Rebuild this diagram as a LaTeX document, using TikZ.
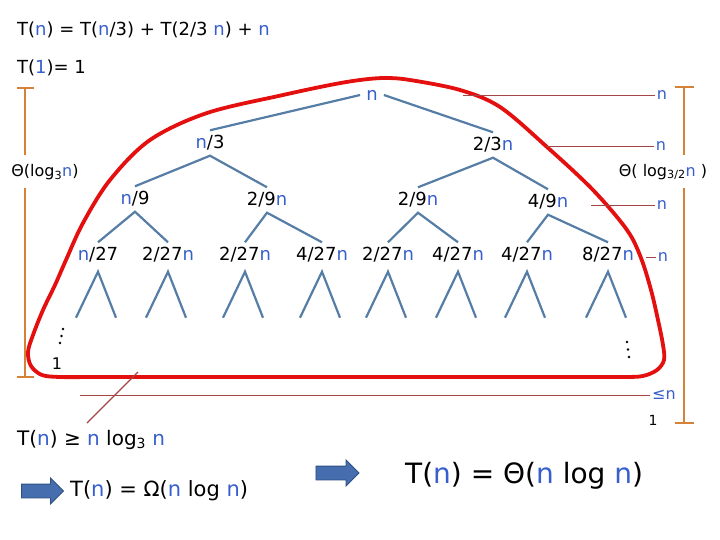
\documentclass[tikz,border=0pt]{standalone}
\usepackage{fontspec}
\setmainfont{DejaVu Sans}
\usetikzlibrary{shapes.arrows}
\definecolor{nblue}{RGB}{55,95,205}
\definecolor{treeblue}{RGB}{85,125,165}
\definecolor{curvered}{RGB}{228,16,16}
\definecolor{bracketor}{RGB}{212,130,55}
\definecolor{thinbrown}{RGB}{165,70,70}
\definecolor{arrfill}{RGB}{70,110,175}
\definecolor{arrdraw}{RGB}{45,80,130}
\newcommand\blun{\textcolor{nblue}{n}}
\newcommand\fs[1]{\fontsize{#1}{#1}\selectfont}
\begin{document}
\begin{tikzpicture}[x=1pt,y=-1pt,
  lbl/.style={font=\fs{18}, inner xsep=1pt, inner ysep=5pt},
  tl/.style={draw=treeblue, line width=2.2pt},
  redc/.style={draw=curvered, line width=3.8pt, line join=round},
  brk/.style={draw=bracketor, line width=2.8pt},
  thinl/.style={draw=thinbrown, line width=0.8pt},
  rlab/.style={font=\fs{16}, inner sep=2pt, text=nblue},
  txt/.style={inner sep=0pt, anchor=west},
  dotf/.style={fill=black, draw=none},
  barrow/.style={single arrow, fill=arrfill, draw=arrdraw, line width=0.8pt,
    minimum height=42pt, single arrow head extend=6pt,
    single arrow tip angle=90, inner sep=0pt}]
\useasboundingbox (0,0) rectangle (720,540);
% equations
\node[txt, font=\fs{18}] (eq1) at (17,30) {T(\blun) = T(\blun/3) + T(2/3 \blun) + \blun};
\node[txt, font=\fs{18}] (eq2) at (17,68) {T(\textcolor{nblue}{1})= 1};
% red curve
\draw[redc] plot[smooth, tension=0.55] coordinates {
 (90,377) (60,377) (42,375) (31,366) (28,352) (33,335) (43,310) (55,285) (66,260)
 (83,223) (110,180) (150,140) (207,113) (283,95) (330,85) (360,80) (385,78) (410,80)
 (460,90) (500,107) (547,147) (593,190) (627,230) (641,258) (651,290) (658,320)
 (663,345) (664,360) (657,370) (643,376) (625,377) (600,377)} -- cycle;
% tree
\node[lbl, inner xsep=6pt] (r) at (372,95) {\blun};
\node[lbl] (a) at (210,143) {\blun/3};
\node[lbl] (b) at (493,145) {2/3\blun};
\node[lbl] (aa) at (135,199) {\blun/9};
\node[lbl] (ab) at (267,200) {2/9\blun};
\node[lbl] (ba) at (418,200) {2/9\blun};
\node[lbl] (bb) at (548,202) {4/9\blun};
\node[lbl] (aaa) at (98,255) {\blun/27};
\node[lbl] (aab) at (168,255) {2/27\blun};
\node[lbl] (aba) at (245,255) {2/27\blun};
\node[lbl] (abb) at (322,255) {4/27\blun};
\node[lbl] (baa) at (388,255) {2/27\blun};
\node[lbl] (bab) at (458,255) {4/27\blun};
\node[lbl] (bba) at (527,255) {4/27\blun};
\node[lbl] (bbb) at (608,255) {8/27\blun};
\draw[tl] (r.west) -- (a.north);
\draw[tl] (r.east) -- (b.north);
\draw[tl] (aa.north) -- (a.south) -- (ab.north);
\draw[tl] (ba.north) -- (b.south) -- (bb.north);
\draw[tl] (aaa.north) -- (aa.south) -- (aab.north);
\draw[tl] (aba.north) -- (ab.south) -- (abb.north);
\draw[tl] (baa.north) -- (ba.south) -- (bab.north);
\draw[tl] (bba.north) -- (bb.south) -- (bbb.north);
\foreach \q in {aaa,aab,aba,abb,baa,bab,bba,bbb}{
  \draw[tl] ([yshift=-4pt]\q.south) ++(-22,46) -- ([yshift=-4pt]\q.south) -- ++(18,46);
}
% dots and leaf
\foreach \p in {(63,329),(61.5,336),(60,343),(627,342),(628,349.5),(629,357)}
  \fill[dotf] \p circle (1.4);
\node[inner sep=0pt, font=\fs{16}] (one1) at (57,364) {1};
% brackets
\node[font=\fs{16}, inner sep=0pt] (lth) at (45,172) {Θ(log\textsubscript{3}\blun)};
\draw[brk] (17,88) -- (34,88) (25,88) -- (25,155) (25,188) -- (25,377) (17,377) -- (34,377);
\node[font=\fs{16}, inner sep=0pt] (rth) at (663,172) {Θ( log\textsubscript{3/2}\blun\ )};
\draw[brk] (675,87) -- (694,87) (684,87) -- (684,155) (684,188) -- (684,423) (675,423) -- (694,423);
% right sums
\node[rlab] (s1) at (662,95) {n};
\node[rlab] (s2) at (661,146) {n};
\node[rlab] (s3) at (662,205) {n};
\node[rlab] (s4) at (663,257) {n};
\node[rlab] (s5) at (664,395) {≤n};
\node[font=\fs{14}, inner sep=0pt] (one2) at (653,420) {1};
\draw[thinl] (s1.west) -- ++(-192,0);
\draw[thinl] (s2.west) -- ++(-108,0);
\draw[thinl] (s3.west) -- ++(-64,0);
\draw[thinl] (s4.west) -- ++(-10,0);
\draw[thinl] (s5.west) -- ++(-570,0);
\draw[thinl, line width=1.4pt] (138,372) -- (87,423);
% conclusions
\node[txt, font=\fs{20}] (lb) at (17,440) {T(\blun) ≥ \blun\ log\textsubscript{3} \blun};
\node[barrow] (ar1) at (39,491) {\rule{0pt}{13pt}};
\node[txt, font=\fs{21}] (om) at (70,491) {T(\blun) = Ω(\blun\ log \blun)};
\node[barrow, minimum height=43pt] (ar2) at (334,473) {\rule{0pt}{13pt}};
\node[txt, font=\fs{28}] (th) at (405,476) {T(\blun) = Θ(\blun\ log \blun)};
\end{tikzpicture}
\end{document}
